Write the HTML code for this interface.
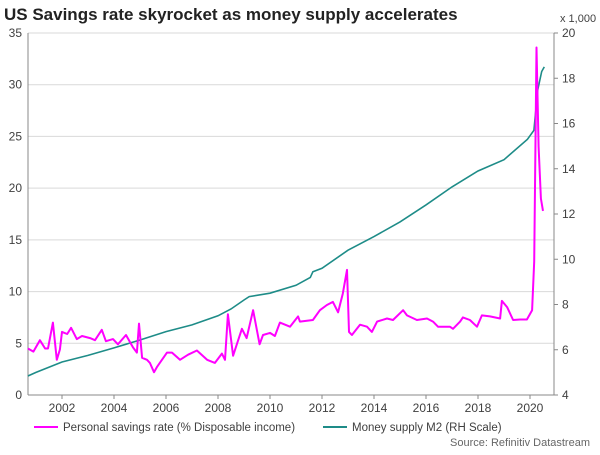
<!DOCTYPE html>
<html><head><meta charset="utf-8"><style>
body{margin:0;background:#fff;font-family:"Liberation Sans",sans-serif}
svg text{font-family:"Liberation Sans",sans-serif;fill:#404040}
</style></head><body>
<svg width="600" height="450" viewBox="0 0 600 450">
<text x="4" y="20" font-size="17" font-weight="bold" style="fill:#222">US Savings rate skyrocket as money supply accelerates</text>
<text x="560" y="22" font-size="11">x 1,000</text>
<g id="grid"></g><g id="axes"></g><g id="series"></g>
<g>
<line x1="34" y1="427" x2="58" y2="427" stroke="#ff00ff" stroke-width="2"/>
<text x="63" y="431" font-size="11.5">Personal savings rate (% Disposable income)</text>
<line x1="323" y1="427" x2="347" y2="427" stroke="#1e8c88" stroke-width="2"/>
<text x="352" y="431" font-size="11.5">Money supply M2 (RH Scale)</text>
</g>
<text x="590" y="446" font-size="11" text-anchor="end" style="fill:#666">Source: Refinitiv Datastream</text>
</svg>
<script>
const savDates=[2000.69,2000.9,2001.15,2001.35,2001.46,2001.65,2001.8,2001.92,2002.0,2002.2,2002.35,2002.57,2002.77,2003.08,2003.27,2003.53,2003.69,2003.96,2004.15,2004.46,2004.62,2004.73,2004.88,2004.96,2005.08,2005.27,2005.38,2005.54,2005.65,2006.04,2006.23,2006.54,2006.85,2007.19,2007.58,2007.88,2008.15,2008.27,2008.38,2008.58,2008.92,2009.1,2009.35,2009.6,2009.73,2010.0,2010.19,2010.38,2010.77,2011.08,2011.15,2011.65,2011.92,2012.19,2012.42,2012.62,2012.8,2012.96,2013.04,2013.15,2013.46,2013.73,2013.92,2014.12,2014.5,2014.73,2015.12,2015.27,2015.65,2016.04,2016.27,2016.46,2016.92,2017.04,2017.31,2017.42,2017.69,2017.96,2018.15,2018.46,2018.85,2018.92,2019.12,2019.35,2019.62,2019.88,2020.08,2020.16,2020.25,2020.33,2020.42,2020.5];
const savValues=[4.5,4.2,5.3,4.5,4.5,7.0,3.4,4.4,6.1,5.9,6.5,5.4,5.7,5.5,5.3,6.3,5.2,5.4,4.9,5.8,5.1,4.6,4.1,6.9,3.6,3.4,3.1,2.2,2.7,4.1,4.1,3.4,3.9,4.3,3.4,3.1,4.0,3.4,7.8,3.8,6.4,5.5,8.2,4.9,5.8,6.0,5.7,7.0,6.6,7.6,7.1,7.25,8.2,8.7,9.0,8.0,9.8,12.1,6.1,5.8,6.8,6.6,6.1,7.1,7.4,7.25,8.2,7.7,7.25,7.4,7.1,6.6,6.6,6.4,7.1,7.5,7.25,6.6,7.7,7.6,7.4,9.1,8.5,7.25,7.3,7.3,8.2,12.9,33.6,24.0,19.0,17.8];
const m2Dates=[2000.69,2001.0,2002.0,2003.0,2004.0,2005.0,2006.0,2007.0,2008.0,2008.5,2009.0,2009.2,2010.0,2011.0,2011.55,2011.65,2012.0,2013.0,2014.0,2015.0,2016.0,2017.0,2018.0,2019.0,2019.9,2020.15,2020.3,2020.45,2020.55];
const m2Values=[4.84,5.0,5.46,5.75,6.08,6.43,6.8,7.1,7.5,7.8,8.2,8.35,8.5,8.85,9.2,9.45,9.6,10.4,11.0,11.65,12.4,13.2,13.9,14.4,15.3,15.7,17.5,18.3,18.5];
const leftTicks=[0,5,10,15,20,25,30,35];
const rightTicks=[4,6,8,10,12,14,16,18,20];
const yearTicks=[2002,2004,2006,2008,2010,2012,2014,2016,2018,2020];
const X0=28,X1=554,Y0=395,Y1=33;
const xs=t=>62+(t-2002)*26;
const yl=v=>Y0-(v/35)*(Y0-Y1);
const yr=v=>Y0-((v-4)/16)*(Y0-Y1);
const NS='http://www.w3.org/2000/svg';
function mk(tag,attrs,parent,txt){const e=document.createElementNS(NS,tag);for(const k in attrs)e.setAttribute(k,attrs[k]);if(txt!==undefined)e.textContent=txt;document.getElementById(parent).appendChild(e);return e;}
leftTicks.forEach(v=>{
 if(v>0){const g=mk('line',{x1:X0,x2:X1,y1:yl(v),y2:yl(v),stroke:'#d9d9d9','stroke-width':1},'grid');
 
 }
 const t=mk('text',{x:X0-6,y:yl(v)+4,'font-size':12,'text-anchor':'end'},'axes',v);
 
 
});
rightTicks.forEach(v=>{
 mk('line',{x1:X1,x2:X1+4,y1:yr(v),y2:yr(v),stroke:'#888'},'axes');
 const t=mk('text',{x:X1+8,y:yr(v)+4,'font-size':12},'axes',v);
 
 
});
yearTicks.forEach(y=>{
 mk('line',{x1:xs(y),x2:xs(y),y1:Y0,y2:Y0+4,stroke:'#888'},'axes');
 const t=mk('text',{x:xs(y),y:Y0+17,'font-size':12,'text-anchor':'middle'},'axes',y);
 
 
});
const la=mk('line',{x1:X0,x2:X0,y1:Y1,y2:Y0,stroke:'#888'},'axes');


const ra=mk('line',{x1:X1,x2:X1,y1:Y1,y2:Y0,stroke:'#888'},'axes');


const ba=mk('line',{x1:X0,x2:X1,y1:Y0,y2:Y0,stroke:'#888'},'axes');


const m2=mk('polyline',{points:m2Dates.map((d,i)=>xs(d).toFixed(1)+','+yr(m2Values[i]).toFixed(1)).join(' '),fill:'none',stroke:'#1e8c88','stroke-width':1.6},'series');


const sv=mk('polyline',{points:savDates.map((d,i)=>xs(d).toFixed(1)+','+yl(savValues[i]).toFixed(1)).join(' '),fill:'none',stroke:'#ff00ff','stroke-width':2,'stroke-linejoin':'round'},'series');


</script>
</body></html>
